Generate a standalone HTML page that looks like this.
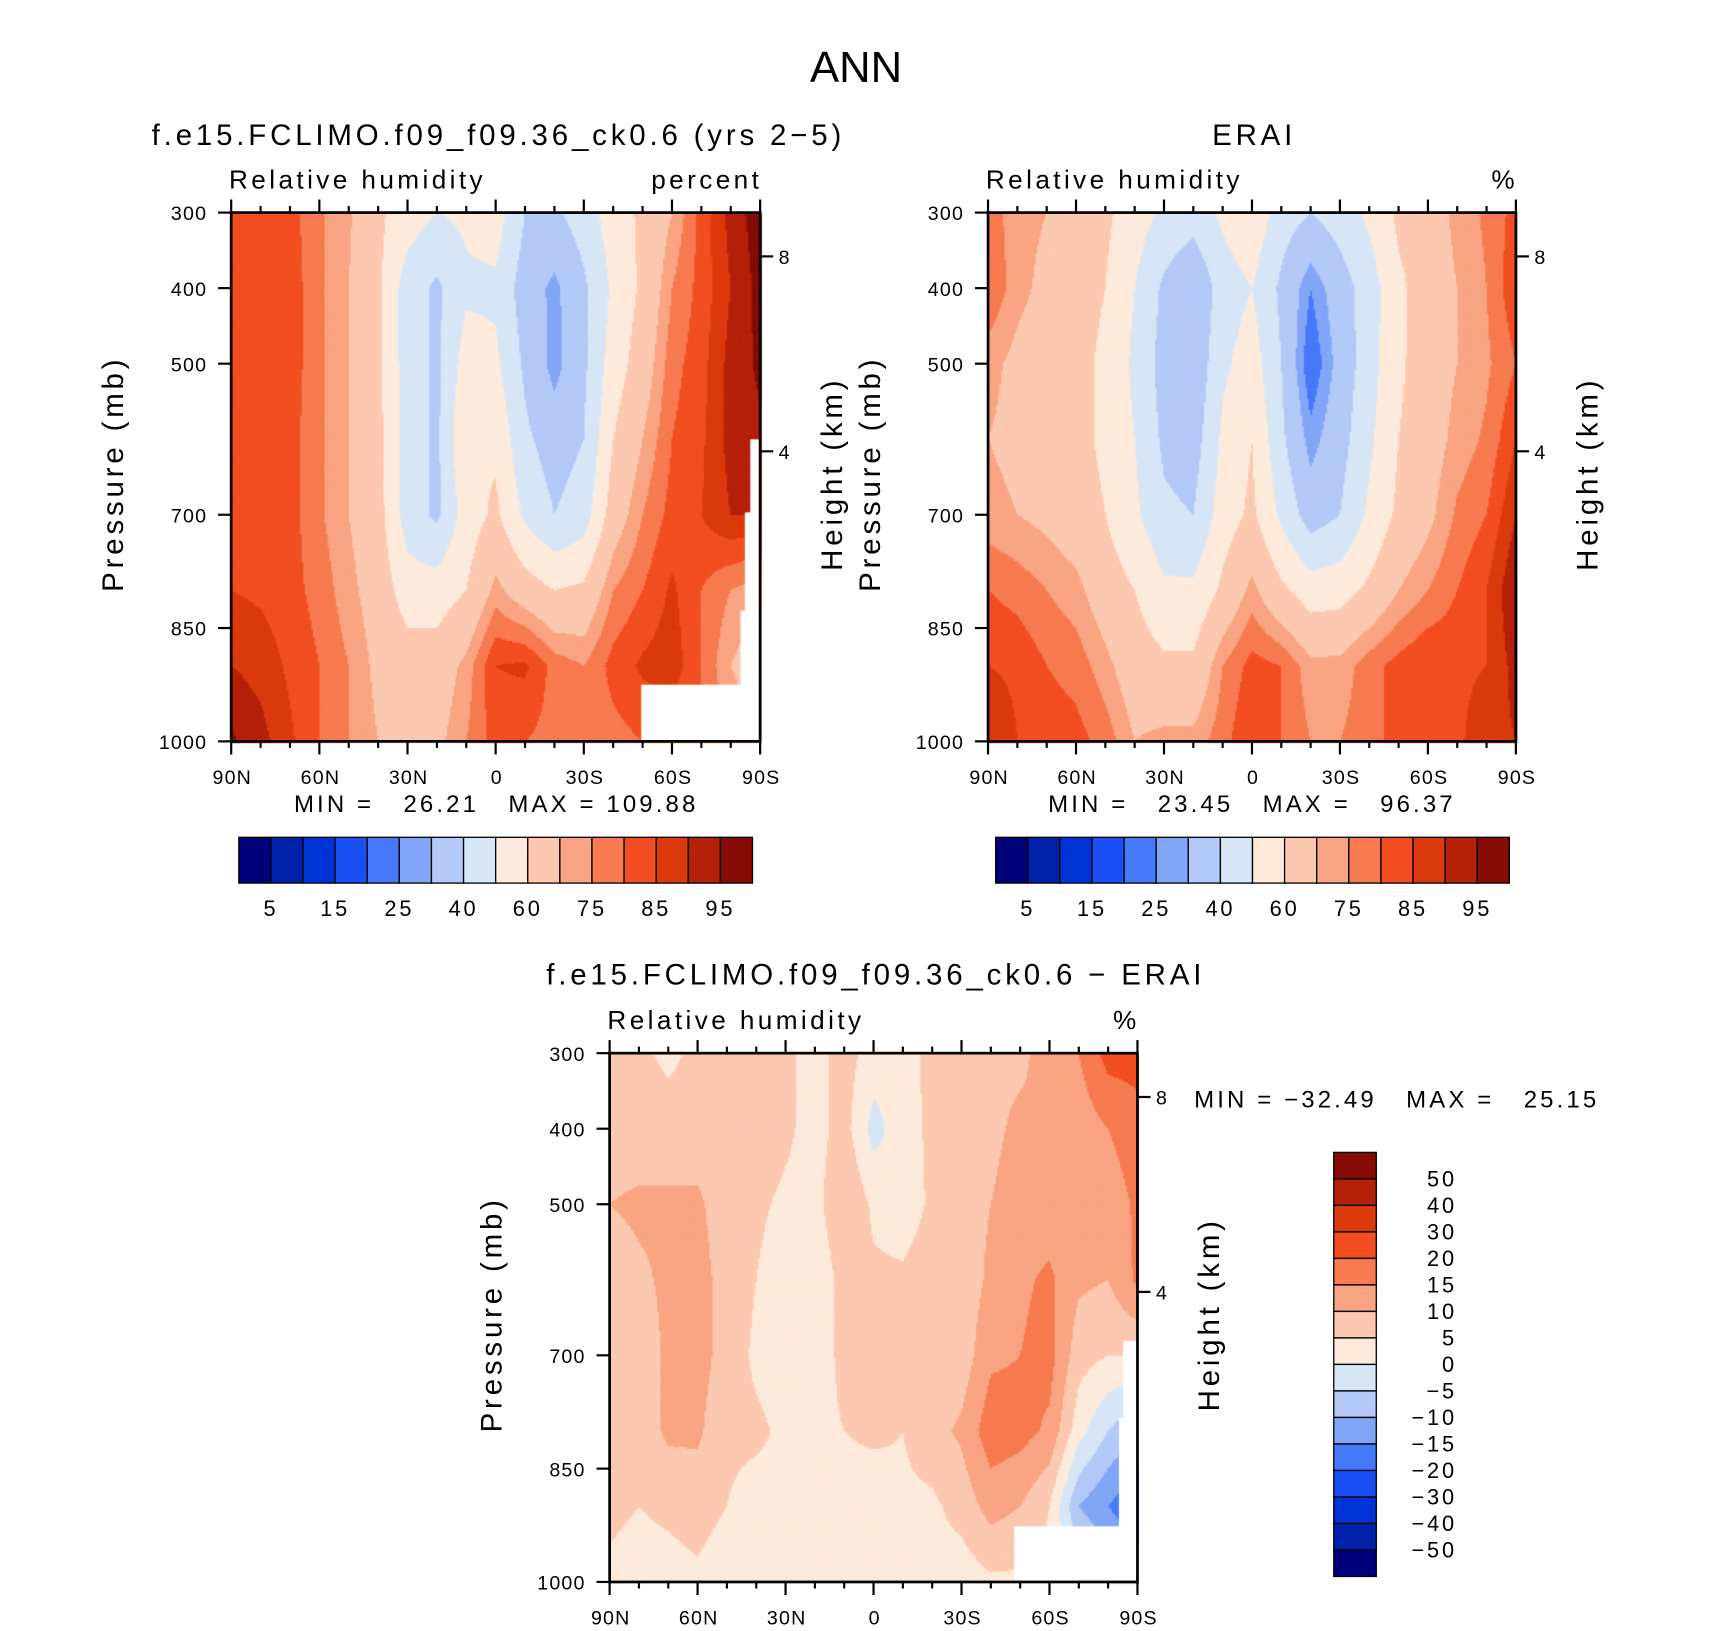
<!DOCTYPE html>
<html><head><meta charset="utf-8"><style>
html,body{margin:0;padding:0;background:#fff;}
#wrap{position:relative;width:1710px;height:1631px;}
canvas,svg{position:absolute;left:0;top:0;}
text{font-family:"Liberation Sans",sans-serif;fill:#000;white-space:pre;letter-spacing:0.13em;}
</style></head><body>
<div id="wrap">
<canvas id="cv" width="1710" height="1631"></canvas>
<svg id="sv" width="1710" height="1631" viewBox="0 0 1568 1496" preserveAspectRatio="none"></svg>
</div>
<script>
// ---- data ----
const lats = [90,80,70,60,50,40,30,20,10,0,-10,-20,-30,-40,-50,-60,-70,-80,-90];
const plevs = [300,400,500,600,700,800,900,1000];
const latTickVals = [90,60,30,0,-30,-60,-90];
const latTickLabels = ["90N","60N","30N","0","30S","60S","90S"];
const presTicks = [300,400,500,700,850,1000];
const heightTickLabels = ["8","4"];
const heightTickPres = [358,616];
const absLevels = [5,10,15,20,25,30,40,50,60,70,75,80,85,90,95];
const absLabels = ["5","15","25","40","60","75","85","95"];
const diffLevels = [-50,-40,-30,-20,-15,-10,-5,0,5,10,15,20,30,40,50];
const diffLabels = ["50","40","30","20","15","10","5","0","\u22125","\u221210","\u221215","\u221220","\u221230","\u221240","\u221250"];
const palette = ["#00007a","#0022a8","#0033d6","#1a4ff5","#4679fa","#82a6f7","#b3c9f7","#d6e6f7","#fdeadb","#fcc9b0","#f9a482","#f77a50","#f24e21","#db3a0c","#b52009","#850b04"];
// rows per pressure level, columns per latitude (90N..90S)
const modelRH = [
 [80,82,82,76,71,62,55,50,52,55,40,38,45,55,62,70,82,92,98],
 [82,83,83,76,70,62,45,38,48,48,35,28,38,52,62,75,82,90,97],
 [82,83,83,76,70,62,45,38,55,52,38,27,38,55,65,78,83,92,96],
 [82,83,82,76,70,63,45,38,60,58,42,35,40,60,70,80,84,92,94],
 [82,83,82,76,70,64,45,38,55,62,48,40,45,65,75,82,85,90,90],
 [85,84,82,78,72,66,55,55,60,72,65,60,62,75,80,86,80,75,72],
 [90,88,84,80,75,68,65,65,72,85,86,78,75,82,86,88,80,70,65],
 [96,92,86,80,75,70,68,68,75,82,80,78,76,78,80,80,80,75,70]
];
const eraRH = [
 [78,72,70,66,62,55,48,45,52,58,45,40,45,52,62,65,72,76,82],
 [80,72,68,64,60,50,38,30,45,50,38,25,35,45,58,65,70,75,84],
 [72,68,65,63,58,48,36,32,48,55,40,20,33,46,58,66,70,74,80],
 [70,68,65,63,58,50,38,35,52,60,42,27,36,48,60,66,72,76,85],
 [72,70,68,65,60,52,42,40,55,62,48,35,40,52,62,68,76,80,90],
 [80,78,75,72,65,60,52,52,62,72,62,55,56,62,70,75,80,85,95],
 [85,84,80,78,72,65,62,62,75,82,80,72,72,78,82,85,84,85,92],
 [90,85,83,82,78,70,72,72,78,85,80,75,75,78,82,82,84,88,90]
];
const diffRH = [
 [6,6,4,6,8,7,6,3,7,3,2,7,8,9,9,12,15,22,22],
 [7,7,7,7,8,8,6,3,7,-2,3,6,8,9,11,10,12,15,18],
 [10,11,11,11,7,6,4,3,10,4,2,6,8,10,12,12,11,12,16],
 [7,9,11,12,8,5,2,1,7,6,6,8,7,11,14,16,11,10,16],
 [8,7,11,12,8,4,2,3,6,7,7,6,7,14,15,17,7,5,5],
 [8,7,11,11,6,6,4,4,5,6,5,8,11,18,17,14,2,-5,-10],
 [6,5,6,7,5,3,3,3,3,2,4,4,7,12,10,5,-10,-15,-20],
 [4,3,3,4,2,4,2,5,2,2,4,3,2,4,4,3,0,-5,-10]
];
// ---- geometry (display frame 1568x1496) ----
const panels = [
 {name:"model",x0:212,y0:195,w:485,h:485,data:modelRH,levels:absLevels,
  masks:[[588,628,109,52],[688,403,9,277],[683,470,14,210],[679,560,18,120]]},
 {name:"erai",x0:906,y0:195,w:484,h:485,data:eraRH,levels:absLevels,masks:[]},
 {name:"diff",x0:559,y0:966,w:484,h:485,data:diffRH,levels:diffLevels,
  masks:[[930,1400,113,51],[1030,1230,13,221],[1026,1300,17,151]]}
];
const SX = 1710/1568, SY = 1631/1496;
const cv = document.getElementById('cv');
const ctx = cv.getContext('2d');
ctx.scale(SX,SY);
function xOf(p,lat){return p.x0+(90-lat)/180*p.w;}
function yOf(p,pr){return p.y0+(pr-300)/700*p.h;}
function binOf(v,levels){let b=0;while(b<levels.length&&v>=levels[b])b++;return b;}
function sample(d,lat,pr){
  let fi=(90-lat)/10, fj=(pr-300)/100;
  let i=Math.min(Math.floor(fi),lats.length-2), j=Math.min(Math.floor(fj),plevs.length-2);
  let u=fi-i, v=fj-j;
  return d[j][i]*(1-u)*(1-v)+d[j][i+1]*u*(1-v)+d[j+1][i]*(1-u)*v+d[j+1][i+1]*u*v;
}
panels.forEach(p=>{
  const st=1.5;
  for(let y=0;y<p.h;y+=st){
    for(let x=0;x<p.w;x+=st){
      const lat=90-(x+st/2)/p.w*180, pr=300+(y+st/2)/p.h*700;
      ctx.fillStyle=palette[binOf(sample(p.data,lat,pr),p.levels)];
      ctx.fillRect(p.x0+x,p.y0+y,st+0.6,st+0.6);
    }
  }
  ctx.fillStyle="#fff";
  p.masks.forEach(m=>ctx.fillRect(m[0],m[1],m[2],m[3]));
});
// ---- svg overlay ----
const sv=document.getElementById('sv');
const NS="http://www.w3.org/2000/svg";
function el(tag,attrs,parent){const e=document.createElementNS(NS,tag);for(const k in attrs)e.setAttribute(k,attrs[k]);(parent||sv).appendChild(e);return e;}
function txt(s,x,y,size,anchor,parent,rot){const t=el('text',{x:x,y:y,'font-size':size,'text-anchor':anchor||'start'},parent);if(rot)t.setAttribute('transform','rotate(-90 '+x+' '+y+')');t.textContent=s;return t;}

let t;
t=txt("ANN",785,75,40,"middle");
t.setAttribute('style','letter-spacing:0');



const titles=[["f.e15.FCLIMO.f09_f09.36_ck0.6 (yrs 2\u22125)",457,133,"percent"],["ERAI",1150,133,"%"],["f.e15.FCLIMO.f09_f09.36_ck0.6 \u2212 ERAI",803,903,"%"]];
panels.forEach((p,k)=>{
  const g=el('g',{});
  
  
  t=txt(titles[k][0],titles[k][1],titles[k][2],27,"middle",g);
  
  
  t=txt("Relative humidity",p.x0-2,p.y0-22,24,"start",g);
  
  
  t=txt(titles[k][3],p.x0+p.w+2,p.y0-22,24,"end",g);
  
  
  const fr=el('rect',{x:p.x0,y:p.y0,width:p.w,height:p.h,fill:'none',stroke:'#000','stroke-width':2.5},g);
  
  
  for(let lat=90;lat>=-90;lat-=10){
    const x=xOf(p,lat), major=(lat%30===0), L=major?12:6;
    el('line',{x1:x,y1:p.y0,x2:x,y2:p.y0-L,stroke:'#000','stroke-width':2},g);
    el('line',{x1:x,y1:p.y0+p.h,x2:x,y2:p.y0+p.h+L,stroke:'#000','stroke-width':2},g);
  }
  latTickVals.forEach((lat,i)=>{
    t=txt(latTickLabels[i],xOf(p,lat)+1,p.y0+p.h+39,18,"middle",g);
    t.setAttribute('style','letter-spacing:0.06em');
    
    
  });
  presTicks.forEach(pr=>{
    const y=yOf(p,pr);
    el('line',{x1:p.x0,y1:y,x2:p.x0-12,y2:y,stroke:'#000','stroke-width':2},g);
    t=txt(String(pr),p.x0-22,y+7,18,"end",g);
    t.setAttribute('style','letter-spacing:0.06em');
    
    
  });
  heightTickPres.forEach((pr,i)=>{
    const y=yOf(p,pr);
    el('line',{x1:p.x0+p.w,y1:y,x2:p.x0+p.w+12,y2:y,stroke:'#000','stroke-width':2},g);
    t=txt(heightTickLabels[i],p.x0+p.w+17,y+7,18,"start",g);
    
    
  });
  t=txt("Pressure (mb)",p.x0-99,p.y0+p.h/2-3,27,"middle",g,true);
  
  
  t=txt("Height (km)",p.x0+p.w+75,p.y0+p.h/2-3,27,"middle",g,true);
  
  
});
t=txt("MIN =   26.21   MAX = 109.88",455,745,22,"middle");


t=txt("MIN =   23.45   MAX =   96.37",1148,745,22,"middle");


t=txt("MIN = \u221232.49   MAX =   25.15",1095,1016,22,"start");



[219,913].forEach((cx,k)=>{
  const g=el('g',{});
  
  
  const bw=471/palette.length;
  palette.forEach((c,i)=>{
    const r=el('rect',{x:cx+i*bw,y:768,width:bw,height:42,fill:c,stroke:'#000','stroke-width':1.2},g);
    
    
  });
  absLabels.forEach((s,i)=>{
    t=txt(s,cx+(2*i+1)*bw,840,20,"middle",g);
    
    
  });
});
{
  const g=el('g',{});
  
  
  const bh=389/palette.length;
  palette.slice().reverse().forEach((c,i)=>{
    const r=el('rect',{x:1223,y:1057+i*bh,width:39,height:bh,fill:c,stroke:'#000','stroke-width':1.2},g);
    
    
  });
  diffLabels.forEach((s,i)=>{
    t=txt(s,1336,1057+(i+1)*bh+7,20,"end",g);
    
    
  });
}
</script>
</body></html>
